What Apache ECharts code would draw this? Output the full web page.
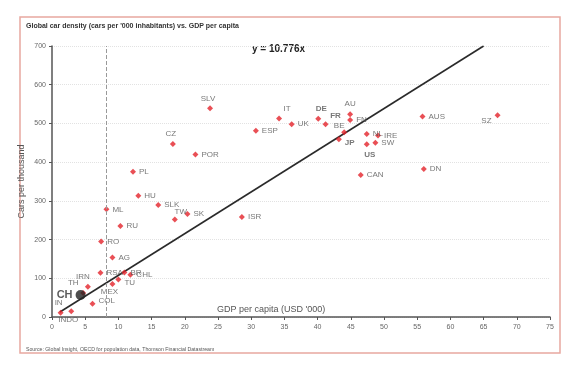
<!DOCTYPE html>
<html>
<head>
<meta charset="utf-8">
<script src="https://cdn.jsdelivr.net/npm/echarts@6/dist/echarts.min.js"></script>
<style>html,body{margin:0;padding:0;background:#fff;}#c{width:576px;height:370px;}</style>
</head>
<body>
<div id="c"></div>
<script>
// ---- data ----
const countries = ['IN','INDO','TH','IRN','COL','MEX','TU','RSA','BR','CHL','AG','RO','ML','RU','PL','HU','SLK','TW','SK','CZ','POR','SLV','ISR','ESP','IT','UK','DE','FR','BE','JP','AU','FN','NL','IRE','US','SW','CAN','AUS','DN','SZ'];
const gdpPerCapita = [1.3, 2.9, 4.7, 5.4, 6.1, 9.1, 10.0, 7.3, 10.9, 11.8, 9.1, 7.4, 8.2, 10.3, 12.2, 13.0, 16.0, 18.5, 20.4, 18.2, 21.6, 23.8, 28.6, 30.7, 34.2, 36.1, 40.1, 41.2, 44.0, 43.2, 44.9, 44.9, 47.4, 49.1, 47.4, 48.7, 46.5, 55.8, 56.0, 67.1];
const carsPerThousand = [11, 15, 62, 78, 34, 85, 97, 114, 115, 109, 154, 195, 278, 235, 375, 313, 289, 252, 266, 447, 420, 539, 258, 481, 513, 498, 512, 498, 477, 459, 524, 509, 473, 469, 446, 450, 367, 518, 382, 521];
const chinaName = 'CH';
const chinaPoint = [4.3, 57];
const trendX = [1.2, 65];
const trendY = [13, 700];
const worldAvgGdp = [8.1];
const xTicks = [0, 75, 5];
const yTicks = [0, 700, 100];
const equationText = 'y = 10.776x';

// ---- label placement (layout only) ----
const placement = {
  IN: ['top', [-2, 0]], INDO: ['bottom', [-3, -1]], TH: ['top', [-10, 0]], IRN: ['top', [-5, 0]],
  COL: ['right', [0, -3]], MEX: ['bottom', [-3, -2]], TU: ['right', [0, 3]],
  SLV: ['top', [-2, 0]], CZ: ['top', [-2, 0]], IT: ['top', [8, 0]], DE: ['top', [3, 0]],
  TW: ['top', [6, 2]], FR: ['top', [10, 2]], BE: ['top', [-5, 3]], JP: ['right', [0, 3]],
  US: ['bottom', [3, 0]], SZ: ['left', [0, 5]], AU: ['top', [0, 0]]
};
const boldNames = ['DE', 'FR', 'JP', 'US'];

const pts = countries.map((n, i) => {
  const p = placement[n] || ['right', [0, 0]];
  return {
    name: n,
    value: [gdpPerCapita[i], carsPerThousand[i]],
    label: { position: p[0], offset: p[1], fontWeight: boldNames.includes(n) ? 'bold' : 'normal' }
  };
});

const chart = echarts.init(document.getElementById('c'), null, { renderer: 'canvas' });
const font = 'Liberation Sans, Arial, sans-serif';
chart.setOption({
  animation: false,
  backgroundColor: '#fff',
  textStyle: { fontFamily: font },
  grid: { left: 52, right: 26, top: 46, bottom: 53 },
  xAxis: {
    type: 'value', min: xTicks[0], max: xTicks[1], interval: xTicks[2],
    axisLine: { lineStyle: { color: '#555', width: 1.5 } },
    axisTick: { show: true, length: 3, lineStyle: { color: '#555' } },
    axisLabel: { color: '#666', fontSize: 7, margin: 7, fontFamily: font },
    splitLine: { show: false }
  },
  yAxis: {
    type: 'value', min: yTicks[0], max: yTicks[1], interval: yTicks[2],
    name: 'Cars per thousand', nameLocation: 'middle', nameGap: 26, nameMoveOverlap: false,
    nameTextStyle: { color: '#555', fontSize: 9, fontFamily: font },
    axisLine: { show: true, lineStyle: { color: '#555', width: 1.5 } },
    axisTick: { show: true, length: 3, lineStyle: { color: '#555' } },
    axisLabel: { color: '#666', fontSize: 7, margin: 6, fontFamily: font },
    splitLine: { show: true, lineStyle: { color: '#e2e2e2', type: 'dotted', width: 1 } }
  },
  series: [
    {
      type: 'line', data: trendX.map((x, i) => [x, trendY[i]]), symbol: 'none',
      lineStyle: { color: '#2a2a2a', width: 1.6 }, z: 2,
      markLine: {
        silent: true, symbol: 'none', label: { show: false },
        lineStyle: { color: '#999', type: 'dashed', width: 1 },
        data: worldAvgGdp.map(v => ({ xAxis: v }))
      }
    },
    {
      type: 'scatter', data: pts, symbol: 'diamond', symbolSize: 6,
      itemStyle: { color: '#e3232b' }, z: 3,
      label: { show: true, formatter: '{b}', color: '#555', fontSize: 8, distance: 3, fontFamily: font }
    },
    {
      type: 'scatter', data: [{ name: chinaName, value: chinaPoint }], symbol: 'circle', symbolSize: 10,
      itemStyle: { color: '#222' }, z: 4,
      label: { show: true, position: 'left', formatter: '{b}', color: '#333', fontSize: 11, fontWeight: 'bold', distance: 3, fontFamily: font }
    }
  ],
  graphic: [
    { type: 'rect', shape: { x: 20, y: 17, width: 540, height: 336 }, style: { fill: 'none', stroke: '#e8a8a0', lineWidth: 1.5 }, z: -1 },
    { type: 'text', left: 26, top: 23, style: { text: "Global car density (cars per '000 inhabitants) vs. GDP per capita", font: 'bold 7px ' + font, fill: '#333' } },
    { type: 'text', left: 252, top: 44, style: { text: equationText, font: 'bold 10px ' + font, fill: '#222' } },
    { type: 'text', left: 217, top: 305, style: { text: "GDP per capita (USD '000)", font: '9px ' + font, fill: '#555' } },
    { type: 'text', left: 26, top: 347, style: { text: 'Source: Global Insight, OECD for population data, Thomson Financial Datastream', font: '5.2px ' + font, fill: '#555' } }
  ]
});
</script>
</body>
</html>
